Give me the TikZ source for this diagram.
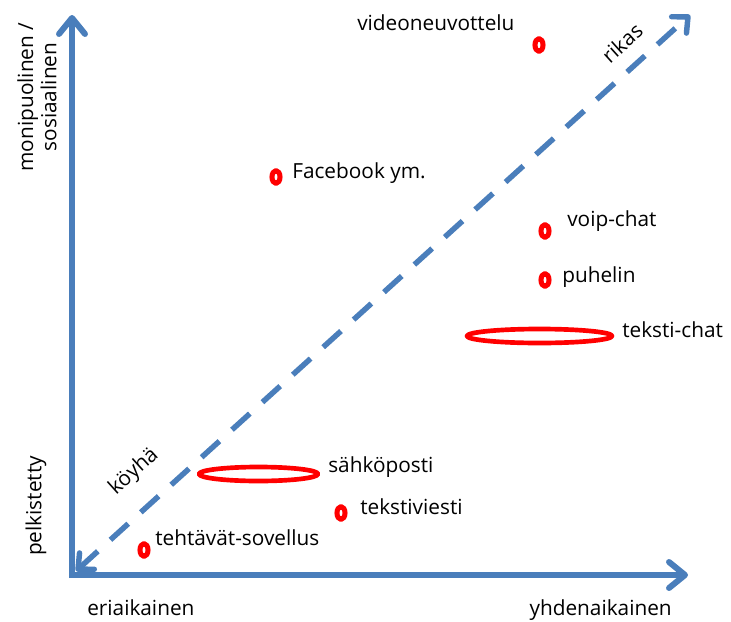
\documentclass[tikz,border=0pt]{standalone}
\usepackage{fontspec}
\setmainfont{Open Sans}[Ligatures=CommonOff]
\usetikzlibrary{arrows.meta,shapes.geometric}
\definecolor{axisblue}{RGB}{74,126,187}
\begin{document}
\begin{tikzpicture}[x=0.75pt,y=-0.75pt,
  axis/.style={draw=axisblue,line width=4.5pt,
    -{Straight Barb[round,length=12pt,width=19.5pt]}},
  diag/.style={draw=axisblue,line width=4.1pt,dash pattern=on 18pt off 12.75pt,
    {Straight Barb[round,length=9pt,width=16.5pt]}-{Straight Barb[round,length=9pt,width=16.5pt]}},
  dot/.style={ellipse,draw=red,line width=3.8pt,line join=round,minimum width=6pt,minimum height=9.6pt,inner sep=0pt},
  band/.style={ellipse,draw=red,line width=3.5pt,line join=round,inner sep=0pt},
  lbl/.style={font=\fontsize{15.6}{17.5}\selectfont,inner sep=0pt},
]
\useasboundingbox (0,0) rectangle (731,621);

% axes
\coordinate (o) at (72,575);
\coordinate (ytip) at (72,15);
\coordinate (xtip) at (688,575);
\coordinate (dstart) at (76,571);
\coordinate (dend) at (690,15);
\draw[axis] (72,578) -- (ytip);
\draw[axis] (69,575) -- (xtip);
\draw[diag] (dstart) -- (dend);

% axis labels
\node[lbl,anchor=base west] (eri) at (87,615) {eriaikainen};
\node[lbl,anchor=base east] (yhd) at (672,615) {yhdenaikainen};
\node[lbl,rotate=90] (pelk) at (36,506) {pelkistetty};
\node[lbl,rotate=90,align=center] (moni) at (37,97) {monipuolinen /\\sosiaalinen};
\node[lbl,rotate=42] (koyha) at (134,472) {köyhä};
\node[lbl,rotate=42] (rikas) at (622,43) {rikas};

% media
\node[dot] (video) at (539,45) {};
\node[lbl,anchor=base west] (videol) at (357,31) {videoneuvottelu};
\node[dot] (fb) at (276,177) {};
\node[lbl,anchor=base west] (fbl) at (292,178) {Facebook ym.};
\node[dot] (voip) at (545,231) {};
\node[lbl,anchor=base west] (voipl) at (567,226) {voip-chat};
\node[dot] (puh) at (545,280) {};
\node[lbl,anchor=base west] (puhl) at (562,282) {puhelin};
\node[band,minimum width=108.75pt,minimum height=10.5pt] (chat) at (539.5,336) {};
\node[lbl,anchor=base west] (chatl) at (622,337) {teksti-chat};
\node[band,minimum width=89.25pt,minimum height=10.5pt] (posti) at (258.5,474) {};
\node[lbl,anchor=base west] (postil) at (328,472) {sähköposti};
\node[dot] (sms) at (341,513) {};
\node[lbl,anchor=base west] (smsl) at (360,514) {tekstiviesti};
\node[dot] (teht) at (144,550) {};
\node[lbl,anchor=base west] (tehtl) at (155,545) {tehtävät-sovellus};
\end{tikzpicture}
\end{document}
